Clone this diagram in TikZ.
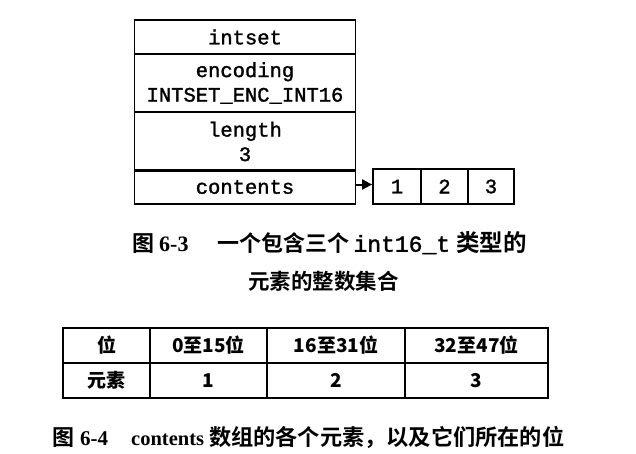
\documentclass[tikz,border=0pt]{standalone}
\usepackage{fontspec}
\setmainfont{Liberation Serif}
\setmonofont{Liberation Mono}[FakeBold=1.5]
\newfontfamily\cjk{Noto Sans CJK SC}
\newfontfamily\cjkb{Noto Sans CJK SC}[BoldFont={* Bold}]
\usetikzlibrary{arrows.meta}
\begin{document}
\begin{tikzpicture}[x=1pt,y=-1pt,
  box/.style={draw, line width=1.8pt, inner sep=0pt, align=center,
    font=\fontsize{20.5}{24.5}\selectfont\ttfamily},
  tcell/.style={draw, line width=1.8pt, inner sep=0pt,
    font=\fontsize{19}{21}\selectfont\cjk\bfseries},
  captext/.style={inner sep=0pt, anchor=west, font=\fontsize{22}{24}\selectfont}]
\useasboundingbox (0,0) rectangle (636,453);
% intset structure
\node[box, minimum width=221pt, minimum height=34pt] (hdr) at (245,37) {intset};
\node[box, minimum width=221pt, minimum height=58pt] (enc) at (245,83) {encoding\\INTSET\_ENC\_INT16};
\node[box, minimum width=221pt, minimum height=59pt] (len) at (245,141.5) {length\\3};
\node[box, minimum width=221pt, minimum height=34pt] (cnt) at (245,187) {contents};
% array
\node[box, minimum width=48pt, minimum height=35pt] (a1) at (397,186.5) {1};
\node[box, minimum width=47pt, minimum height=35pt] (a2) at (444.5,186.5) {2};
\node[box, minimum width=46pt, minimum height=35pt] (a3) at (491,186.5) {3};
\draw[line width=2pt, -{Triangle[length=10pt,width=10pt]}] (cnt.east |- 0,184.5) -- (a1.west |- 0,184.5);
% caption 6-3
\node[captext] (c1) at (132,243) {{\cjkb\bfseries 图}\hspace{5pt}\textbf{6-3}\hspace{29pt}{\cjkb\bfseries 一个包含三个}\hspace{4pt}{\fontsize{23}{24}\selectfont\ttfamily int16\_t}\hspace{6pt}{\fontsize{23.5}{24}\selectfont\cjkb\bfseries 类型的}};
\node[captext, font=\fontsize{21.5}{24}\selectfont] (c2) at (248,281) {\cjkb\bfseries 元素的整数集合};
% table
\node[tcell, minimum width=87pt, minimum height=35pt] (t11) at (106.5,345.5) {位};
\node[tcell, minimum width=117pt, minimum height=35pt] (t12) at (208.5,345.5) {0至15位};
\node[tcell, minimum width=138pt, minimum height=35pt] (t13) at (336,345.5) {16至31位};
\node[tcell, minimum width=143pt, minimum height=35pt] (t14) at (476.5,345.5) {32至47位};
\node[tcell, minimum width=87pt, minimum height=35pt] (t21) at (106.5,380.5) {元素};
\node[tcell, minimum width=117pt, minimum height=35pt] (t22) at (208.5,380.5) {1};
\node[tcell, minimum width=138pt, minimum height=35pt] (t23) at (336,380.5) {2};
\node[tcell, minimum width=143pt, minimum height=35pt] (t24) at (476.5,380.5) {3};
% caption 6-4
\node[captext] (c3) at (52,437) {{\cjkb\bfseries 图}\hspace{6pt}{\fontsize{21}{24}\selectfont\bfseries 6-4}\hspace{23pt}{\fontsize{20.5}{24}\selectfont\bfseries contents}\hspace{5pt}{\fontsize{22.2}{24}\selectfont\cjkb\bfseries 数组的各个元素，以及它们所在的位}};
\end{tikzpicture}
\end{document}
